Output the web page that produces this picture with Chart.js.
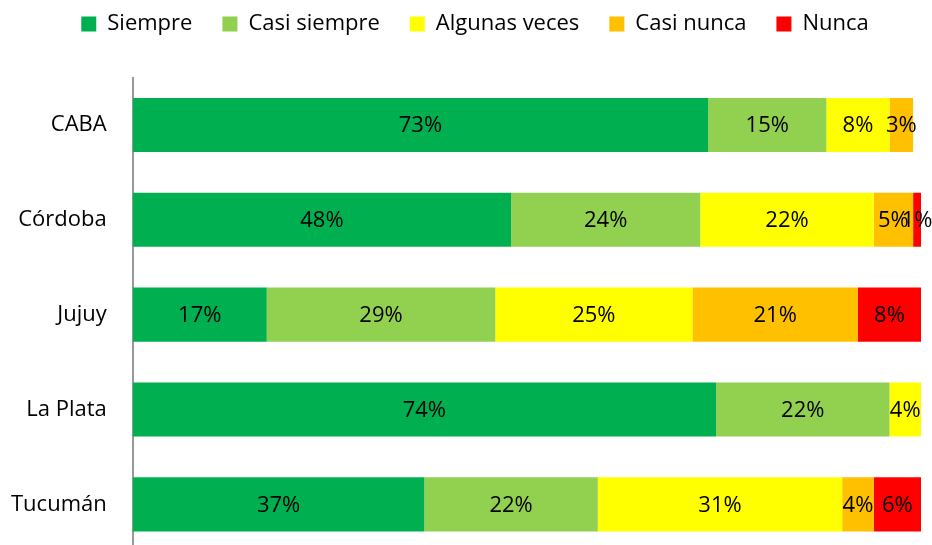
<!DOCTYPE html>
<html>
<head>
<meta charset="utf-8">
<script src="https://cdn.jsdelivr.net/npm/chart.js@4.4.1/dist/chart.umd.min.js"></script>
<style>
  html, body { margin: 0; padding: 0; background: #fff; overflow: hidden; }
  canvas { display: block; }
</style>
</head>
<body>
<canvas id="chart" width="932" height="591"></canvas>
<script>
const cities = ["CABA", "Córdoba", "Jujuy", "La Plata", "Tucumán"];
const seriesNames = ["Siempre", "Casi siempre", "Algunas veces", "Casi nunca", "Nunca"];

const siempre = [73, 48, 17, 74, 37];
const casiSiempre = [15, 24, 29, 22, 22];
const algunasVeces = [8, 22, 25, 4, 31];
const casiNunca = [3, 5, 21, null, 4];
const nunca = [null, 1, 8, null, 6];

const colors = ["#00B050", "#92D050", "#FFFF00", "#FFC000", "#FF0000"];
const FONT = "'Open Sans', sans-serif";

// writes "NN%" in the middle of every bar segment
const valueLabels = {
  id: "valueLabels",
  afterDatasetsDraw(chart) {
    const ctx = chart.ctx;
    ctx.save();
    ctx.font = "22px " + FONT;
    ctx.fillStyle = "#000";
    ctx.textAlign = "center";
    ctx.textBaseline = "middle";
    chart.data.datasets.forEach((ds, i) => {
      const meta = chart.getDatasetMeta(i);
      meta.data.forEach((bar, j) => {
        const v = ds.data[j];
        if (v == null) return;
        const cx = (bar.x + bar.base) / 2;
        ctx.fillText(v + "%", cx, bar.y + 1);
      });
    });
    ctx.restore();
  }
};

// more room under the legend, and nudge the legend row to the right
const legendGap = {
  id: "legendGap",
  beforeInit(chart) {
    const fit = chart.legend.fit;
    chart.legend.fit = function () {
      fit.call(this);
      this.height = 94.5;
    };
  },
  afterLayout(chart) {
    chart.legend.left += 22;
    chart.legend.right += 22;
  }
};

const allSeries = [siempre, casiSiempre, algunasVeces, casiNunca, nunca];

new Chart(document.getElementById("chart"), {
  type: "bar",
  data: {
    labels: cities,
    datasets: allSeries.map((d, i) => ({
      label: seriesNames[i],
      data: d,
      backgroundColor: colors[i],
      borderWidth: 0,
      categoryPercentage: 1,
      barPercentage: 0.57
    }))
  },
  options: {
    indexAxis: "y",
    responsive: false,
    animation: false,
    layout: { padding: { top: -17, right: 11, bottom: 0, left: -15 } },
    plugins: {
      legend: {
        position: "top",
        labels: {
          boxWidth: 15,
          boxHeight: 15,
          padding: 30,
          color: "#000",
          font: { family: FONT, size: 22 }
        }
      },
      tooltip: { enabled: false }
    },
    scales: {
      x: {
        stacked: true,
        min: 0,
        max: 100,
        display: false
      },
      y: {
        stacked: true,
        grid: { display: false, drawTicks: false },
        border: { color: "#999", width: 2 },
        ticks: {
          color: "#000",
          padding: 26,
          font: { family: FONT, size: 22 }
        }
      }
    }
  },
  plugins: [legendGap, valueLabels]
});
</script>
</body>
</html>
